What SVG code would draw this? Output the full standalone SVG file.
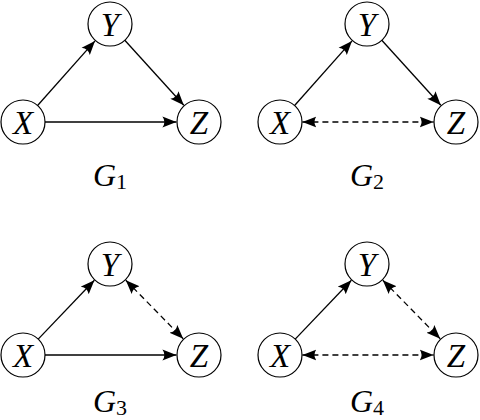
<svg xmlns="http://www.w3.org/2000/svg" width="480" height="420" viewBox="0 0 480 420">
<defs>
<marker id="arr" markerUnits="userSpaceOnUse" markerWidth="15" markerHeight="12" viewBox="0 0 15 12" refX="14" refY="6" orient="auto-start-reverse">
<path d="M0,0.5 Q4,6 0,11.5 L14,6 Z" fill="#000"/>
</marker>
</defs>
<style>
.n circle{fill:#fff;stroke:#000;stroke-width:1.2}
.n text{font-family:"Liberation Serif","DejaVu Serif",serif;font-style:italic;font-size:33px;text-anchor:middle}
.lbl{font-family:"Liberation Serif","DejaVu Serif",serif;font-size:32px}
.lbl .g{font-style:italic}
.lbl .s{font-size:22px;font-style:normal}
.e{stroke:#000;stroke-width:1.3;fill:none}
.a{marker-end:url(#arr)}
.b{marker-start:url(#arr);marker-end:url(#arr)}
.d{stroke-dasharray:6 4}
</style>
<g id="connectors">
<line class="e a" x1="37.6" y1="105.5" x2="95" y2="40.9"/>
<line class="e a" x1="124.8" y1="40.3" x2="183.8" y2="105.3"/>
<line class="e a" x1="45" y1="122" x2="176.4" y2="122"/>
<line class="e a" x1="294.6" y1="105.5" x2="352" y2="40.9"/>
<line class="e a" x1="381.8" y1="40.3" x2="440.8" y2="105.3"/>
<line class="e b d" x1="302.4" y1="122" x2="433.6" y2="122"/>
<line class="e a" x1="38.2" y1="339.1" x2="94.4" y2="280.3"/>
<line class="e b d" x1="125.8" y1="280.2" x2="183.2" y2="338.8"/>
<line class="e a" x1="45" y1="355" x2="176.4" y2="355"/>
<line class="e a" x1="295.2" y1="339.1" x2="351.4" y2="280.3"/>
<line class="e b d" x1="382.8" y1="280.2" x2="440.2" y2="338.8"/>
<line class="e b d" x1="302.4" y1="355" x2="433.6" y2="355"/>
</g>
<g id="G1">
<g id="g1-Y" class="n"><circle cx="110" cy="24" r="22"/><text x="110" y="35.5">Y</text></g>
<g id="g1-X" class="n"><circle cx="23" cy="122" r="22"/><text x="23" y="133.5">X</text></g>
<g id="g1-Z" class="n"><circle cx="199" cy="122" r="22"/><text x="199" y="133.5">Z</text></g>
<text class="lbl" x="93" y="186"><tspan class="g">G</tspan><tspan class="s" dy="3">1</tspan></text>
</g>
<g id="G2">
<g id="g2-Y" class="n"><circle cx="367" cy="24" r="22"/><text x="367" y="35.5">Y</text></g>
<g id="g2-X" class="n"><circle cx="280" cy="122" r="22"/><text x="280" y="133.5">X</text></g>
<g id="g2-Z" class="n"><circle cx="456" cy="122" r="22"/><text x="456" y="133.5">Z</text></g>
<text class="lbl" x="350" y="186"><tspan class="g">G</tspan><tspan class="s" dy="3">2</tspan></text>
</g>
<g id="G3">
<g id="g3-Y" class="n"><circle cx="110" cy="264" r="22"/><text x="110" y="275.5">Y</text></g>
<g id="g3-X" class="n"><circle cx="23" cy="355" r="22"/><text x="23" y="366.5">X</text></g>
<g id="g3-Z" class="n"><circle cx="199" cy="355" r="22"/><text x="199" y="366.5">Z</text></g>
<text class="lbl" x="93" y="412"><tspan class="g">G</tspan><tspan class="s" dy="3">3</tspan></text>
</g>
<g id="G4">
<g id="g4-Y" class="n"><circle cx="367" cy="264" r="22"/><text x="367" y="275.5">Y</text></g>
<g id="g4-X" class="n"><circle cx="280" cy="355" r="22"/><text x="280" y="366.5">X</text></g>
<g id="g4-Z" class="n"><circle cx="456" cy="355" r="22"/><text x="456" y="366.5">Z</text></g>
<text class="lbl" x="350" y="412"><tspan class="g">G</tspan><tspan class="s" dy="3">4</tspan></text>
</g>
</svg>
